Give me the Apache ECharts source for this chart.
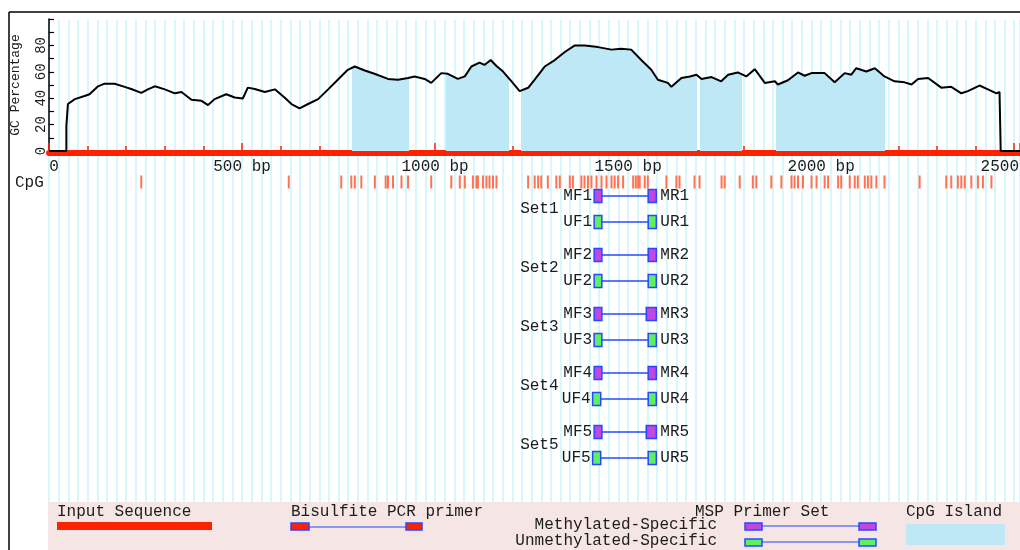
<!DOCTYPE html>
<html>
<head>
<meta charset="utf-8">
<script src="https://cdn.jsdelivr.net/npm/echarts@6/dist/echarts.min.js"></script>
<style>
  html, body { margin: 0; padding: 0; background: #ffffff; }
  #chart { width: 1020px; height: 550px; }
</style>
</head>
<body>
<div id="chart"></div>
<script>
// ---- data -------------------------------------------------------------
// sliding-window GC content: position (bp) and percentage
const gcPos = [0, 45, 45, 49, 49, 67, 92, 105, 127, 144, 170, 196, 213, 239, 256, 274, 300, 326, 343, 369,
  395, 412, 429, 459, 481, 502, 515, 533, 559, 585, 610, 628, 649, 671, 697, 723, 748, 774, 792, 818,
  843, 878, 904, 930, 947, 973, 990, 1016, 1033, 1059, 1077, 1094, 1115, 1128, 1144, 1159, 1176, 1198, 1219, 1241,
  1258, 1284, 1310, 1336, 1362, 1388, 1422, 1457, 1482, 1508, 1534, 1560, 1577, 1603, 1612, 1638, 1660, 1677, 1690, 1716,
  1741, 1759, 1784, 1806, 1828, 1854, 1880, 1888, 1914, 1940, 1957, 1975, 2009, 2035, 2061, 2078, 2091, 2117, 2139, 2164,
  2190, 2216, 2234, 2251, 2277, 2311, 2337, 2363, 2380, 2410, 2432, 2454, 2462, 2465, 2465, 2515];
const gcVal = [0, 0, 19, 19, 35.6, 39.3, 41.7, 43, 49, 51, 51, 48.6, 47, 44, 46.7, 49, 46.7, 43.7, 44.7, 38.8,
  38, 34.8, 39.3, 43, 40.5, 39.8, 48, 47, 44.7, 46.7, 40.5, 35.6, 32.3, 35.6, 39.3, 46.7, 54, 61.5, 64, 61,
  58.5, 54.6, 54, 55.3, 56.5, 54.6, 51.6, 59, 58.5, 54.6, 56.5, 64, 66.9, 65.2, 68.9, 64.4, 60.2, 52.8, 45.4, 47.9,
  54, 64, 68.9, 75, 80, 80, 78.7, 76.8, 77.5, 76.8, 68.9, 61.5, 54, 51.6, 48.6, 55.3, 56.5, 57.8, 54.6, 56,
  52.8, 57.8, 59.5, 56.5, 62, 51.6, 52.8, 50.4, 53.6, 59.5, 57, 59, 59, 52, 59, 57.8, 62.7, 60.2, 62.7, 56.5,
  52.8, 52, 50.4, 54.6, 55.3, 48, 48.6, 43.7, 45.4, 49.6, 46.7, 43.7, 44.7, 44.7, 0, 0];

const axisMaxBp = 2515;

// predicted CpG islands (bp)
const islandStart = [786, 1027, 1222, 1686, 1882];
const islandEnd = [932, 1191, 1678, 1796, 2166];

// individual CpG dinucleotide positions (bp)
const cpgSites = [239, 621, 757, 783, 792, 809, 844, 872, 878, 891, 913, 930, 990, 1042, 1064, 1077, 1098, 1107,
  1111, 1124, 1133, 1141, 1150, 1159, 1241, 1258, 1267, 1275, 1292, 1314, 1323, 1349, 1357, 1379, 1387, 1396,
  1405, 1418, 1431, 1444, 1457, 1465, 1474, 1487, 1513, 1520, 1526, 1530, 1543, 1551, 1599, 1625, 1633, 1672,
  1685, 1742, 1750, 1789, 1823, 1832, 1871, 1897, 1923, 1931, 1940, 1953, 1975, 1988, 2009, 2018, 2044, 2052,
  2074, 2087, 2095, 2113, 2121, 2130, 2143, 2164, 2255, 2324, 2337, 2354, 2363, 2372, 2389, 2406, 2419, 2441];

// MSP primer sets (bp): methylated (M) and unmethylated (U), forward (F) / reverse (R)
const setNames = ['Set1', 'Set2', 'Set3', 'Set4', 'Set5'];
const mfStart = [1412, 1412, 1412, 1412, 1412];
const mfEnd   = [1432, 1432, 1432, 1432, 1432];
const mrStart = [1552, 1552, 1547, 1552, 1547];
const mrEnd   = [1573, 1573, 1573, 1573, 1573];
const ufStart = [1412, 1412, 1412, 1408, 1408];
const ufEnd   = [1432, 1432, 1432, 1429, 1429];
const urStart = [1552, 1552, 1552, 1552, 1552];
const urEnd   = [1573, 1573, 1573, 1573, 1573];

// axis ticks
const gcLabelValues = [0, 20, 40, 60, 80];
const bpLabelStep = 500;

// ---- styling / layout -------------------------------------------------
const FONT = '"Liberation Mono", "DejaVu Sans Mono", monospace';
const TEXT = '#1c1c1c';
const RED = '#ff2200';
const ISLAND = '#bfe8f7';
const GRIDLINE = '#c8f6fb';
const PURPLE = '#bf48df';
const GREEN = '#5ef05e';
const BLUE = '#2848ff';
const LEGEND_BG = '#f5e5e4';

const PLOT_LEFT = 49;
const TRACK_TOP = 20;
const TRACK_HEIGHT = 482;
const CPG_ROW = 162;     // offsets inside the lower track, px from its top
const FIRST_SET = 176;
const SET_GAP = 59;
const PAIR_GAP = 26;
const BOX_H = 13;

const gcData = gcPos.map((p, i) => [p, gcVal[i]]);
const cpgData = cpgSites.map(p => [p, CPG_ROW]);

const primerRows = [];
setNames.forEach((name, i) => {
  const y = FIRST_SET + i * SET_GAP;
  primerRows.push([mfStart[i], mfEnd[i], mrStart[i], mrEnd[i], y, 0, i]);
  primerRows.push([ufStart[i], ufEnd[i], urStart[i], urEnd[i], y + PAIR_GAP, 1, i]);
});

const islandPieces = islandStart.map((s, i) => ({ gte: s, lte: islandEnd[i], color: ISLAND }));

function renderPrimer(params, api) {
  const fs = api.value(0), fe = api.value(1), rs = api.value(2), re = api.value(3);
  const row = api.value(4), kind = api.value(5), si = api.value(6);
  const a = api.coord([fs, row]), b = api.coord([fe, row]);
  const c = api.coord([rs, row]), d = api.coord([re, row]);
  const y = a[1];
  const fill = kind === 0 ? PURPLE : GREEN;
  const tag = kind === 0 ? 'M' : 'U';
  const textStyle = { fontSize: 16, fontFamily: FONT, fill: TEXT, verticalAlign: 'middle' };
  const children = [
    { type: 'line', shape: { x1: b[0], y1: y, x2: c[0], y2: y }, style: { stroke: BLUE, lineWidth: 1.5 } },
    { type: 'rect', shape: { x: a[0], y: y - BOX_H / 2, width: b[0] - a[0], height: BOX_H },
      style: { fill: fill, stroke: BLUE, lineWidth: 1.5 } },
    { type: 'rect', shape: { x: c[0], y: y - BOX_H / 2, width: d[0] - c[0], height: BOX_H },
      style: { fill: fill, stroke: BLUE, lineWidth: 1.5 } },
    { type: 'text', x: a[0] - 2, y: y, style: Object.assign({ text: tag + 'F' + (si + 1), align: 'right' }, textStyle) },
    { type: 'text', x: d[0] + 4, y: y, style: Object.assign({ text: tag + 'R' + (si + 1), align: 'left' }, textStyle) }
  ];
  if (kind === 0) {
    const mid = api.coord([fs, row + PAIR_GAP / 2]);
    children.push({ type: 'text', x: a[0] - 74, y: mid[1],
      style: Object.assign({ text: setNames[si], align: 'left' }, textStyle) });
  }
  return { type: 'group', children: children };
}

const chart = echarts.init(document.getElementById('chart'), null, { renderer: 'canvas' });

const legendText = (text, x, y, align) => ({
  type: 'text', x: x, y: y, z: 20,
  style: { text: text, fontSize: 16, fontFamily: FONT, fill: TEXT, align: align || 'left', verticalAlign: 'middle' }
});
const legendBox = (x, y, w, h, fill) => ({
  type: 'rect', z: 20, shape: { x: x, y: y, width: w, height: h },
  style: { fill: fill, stroke: BLUE, lineWidth: 1.5 }
});
const legendLine = (x1, x2, y) => ({
  type: 'line', z: 20, shape: { x1: x1, y1: y, x2: x2, y2: y }, style: { stroke: BLUE, lineWidth: 1.2 }
});

chart.setOption({
  animation: false,
  backgroundColor: '#ffffff',
  grid: [
    // GC percentage plot
    { left: PLOT_LEFT, right: 0, top: 19, height: 132, containLabel: false, outerBoundsMode: 'none' },
    // lower track: background ruling, CpG sites, primers
    { left: PLOT_LEFT, right: 0, top: TRACK_TOP, height: TRACK_HEIGHT, containLabel: false, outerBoundsMode: 'none' },
    // sequence ruler (red bar)
    { left: PLOT_LEFT, right: 0, top: 0, height: 153, containLabel: false, outerBoundsMode: 'none' }
  ],
  xAxis: [
    { gridIndex: 0, type: 'value', min: 0, max: axisMaxBp, show: false },
    { gridIndex: 1, type: 'value', min: 0, max: axisMaxBp, interval: 25, z: 0,
      axisLine: { show: false }, axisTick: { show: false }, axisLabel: { show: false },
      splitLine: { show: true, lineStyle: { color: GRIDLINE, width: 1.5 } } },
    { gridIndex: 2, type: 'value', min: 0, max: axisMaxBp, interval: bpLabelStep, z: 1,
      axisLine: { show: true, lineStyle: { color: RED, width: 6 } },
      axisTick: { show: true, inside: true, length: 10, lineStyle: { color: RED, width: 1.5 } },
      minorTick: { show: true, splitNumber: 5, length: 7, lineStyle: { color: RED, width: 1.5 } },
      splitLine: { show: false },
      axisLabel: {
        show: true, margin: 6, color: TEXT, fontSize: 16, fontFamily: FONT,
        formatter: v => (v === 0 ? '{z|0}' : v + ' bp'),
        rich: { z: { fontSize: 16, fontFamily: FONT, color: TEXT, padding: [0, 0, 0, 10] } }
      } }
  ],
  yAxis: [
    { gridIndex: 0, type: 'value', min: 0, max: 100, interval: 10,
      name: 'GC Percentage', nameLocation: 'middle', nameRotate: 90, nameGap: 27,
      nameTextStyle: { fontSize: 13, fontFamily: FONT, color: TEXT },
      axisLine: { show: true, lineStyle: { color: '#000', width: 1.5 } },
      axisTick: { show: true, inside: true, length: 5, lineStyle: { color: '#000', width: 1.2 } },
      axisLabel: { show: true, rotate: 90, margin: 1, fontSize: 14, fontFamily: FONT, color: TEXT,
        formatter: v => (gcLabelValues.indexOf(v) >= 0 ? String(v) : '') },
      splitLine: { show: false } },
    { gridIndex: 1, type: 'value', min: 0, max: TRACK_HEIGHT, inverse: true, show: false },
    { gridIndex: 2, type: 'value', min: 0, max: 1, show: false }
  ],
  visualMap: [{
    type: 'piecewise', show: false, dimension: 0, seriesIndex: 0,
    pieces: islandPieces, outOfRange: { color: 'rgba(255,255,255,0)' }
  }],
  series: [
    // CpG island shading under the GC curve
    { type: 'line', xAxisIndex: 0, yAxisIndex: 0, data: gcData, showSymbol: false, z: 3,
      lineStyle: { width: 0 }, areaStyle: { opacity: 1 }, silent: true },
    // GC curve
    { type: 'line', xAxisIndex: 0, yAxisIndex: 0, data: gcData, showSymbol: false, z: 5,
      lineStyle: { color: '#000', width: 2 }, itemStyle: { color: '#000' }, silent: true },
    // CpG sites
    { type: 'scatter', xAxisIndex: 1, yAxisIndex: 1, data: cpgData, z: 4,
      symbol: 'rect', symbolSize: [2, 13], itemStyle: { color: '#ff7352', opacity: 1 }, silent: true },
    // primer sets
    { type: 'custom', xAxisIndex: 1, yAxisIndex: 1, data: primerRows, z: 6,
      renderItem: renderPrimer, silent: true }
  ],
  graphic: [
    // outer frame
    { type: 'line', z: 30, shape: { x1: 9, y1: 12, x2: 1020, y2: 12 }, style: { stroke: '#000', lineWidth: 1.5 } },
    { type: 'line', z: 30, shape: { x1: 9, y1: 12, x2: 9, y2: 550 }, style: { stroke: '#000', lineWidth: 1.5 } },
    // track label
    legendText('CpG', 15, 183),
    // legend panel
    { type: 'rect', z: 15, shape: { x: 48, y: 502, width: 972, height: 48 }, style: { fill: LEGEND_BG } },
    legendText('Input Sequence', 57, 512),
    { type: 'rect', z: 20, shape: { x: 57, y: 522, width: 155, height: 8 }, style: { fill: RED } },
    legendText('Bisulfite PCR primer', 291, 512),
    legendLine(309, 406, 527),
    legendBox(291, 523, 18, 7, RED),
    legendBox(406, 523, 16, 7, RED),
    legendText('MSP Primer Set', 695, 512),
    legendText('Methylated-Specific', 717, 525, 'right'),
    legendText('Unmethylated-Specific', 717, 541, 'right'),
    legendLine(762, 859, 526),
    legendBox(745, 523, 17, 7, PURPLE),
    legendBox(859, 523, 17, 7, PURPLE),
    legendLine(762, 859, 542),
    legendBox(745, 539, 17, 7, GREEN),
    legendBox(859, 539, 17, 7, GREEN),
    legendText('CpG Island', 906, 512),
    { type: 'rect', z: 20, shape: { x: 906, y: 524, width: 99, height: 21 }, style: { fill: ISLAND } }
  ]
});
</script>
</body>
</html>
